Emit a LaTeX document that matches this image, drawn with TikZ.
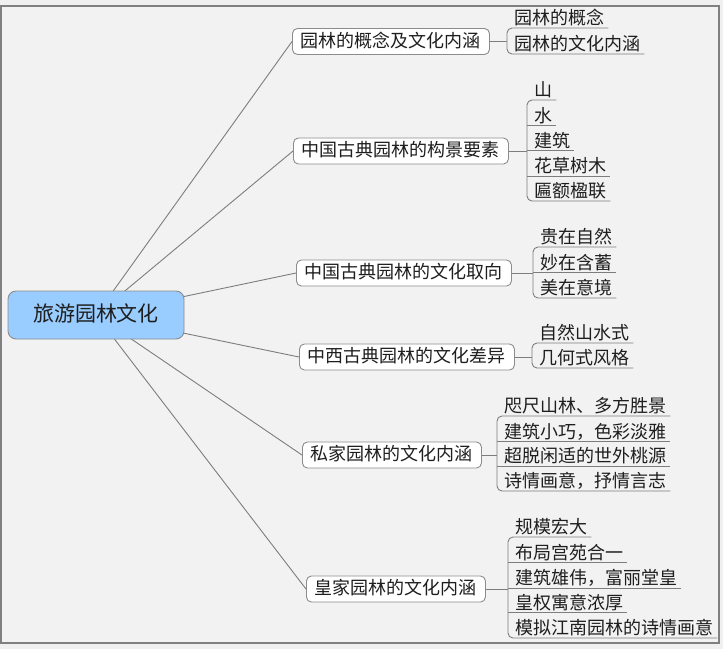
\documentclass[tikz,border=0pt]{standalone}
\usepackage{fontspec}
\newfontfamily\cjk{Noto Sans CJK SC}
\definecolor{bg}{RGB}{242,242,242}
\definecolor{outbg}{RGB}{240,240,240}
\definecolor{framegray}{RGB}{128,128,128}
\definecolor{linegray}{RGB}{125,125,125}
\definecolor{boxgray}{RGB}{140,140,140}
\definecolor{rootblue}{RGB}{153,204,255}
\definecolor{txt}{RGB}{30,30,30}
\begin{document}
\begin{tikzpicture}[x=1pt,y=-1pt,
  conn/.style={draw=linegray, line width=0.9pt},
  lvl/.style={draw=boxgray, fill=white, rounded corners=5pt, line width=0.9pt,
    font=\cjk\fontsize{18}{18}\selectfont, inner xsep=8.5pt, inner ysep=4pt,
    text height=14.5pt, text depth=3.5pt, anchor=west, text=txt},
  leaf/.style={inner sep=0pt, font=\cjk\fontsize{18}{18}\selectfont,
    text height=15pt, text depth=3pt, anchor=south west, text=txt},
  rootbox/.style={draw=boxgray, fill=rootblue, rounded corners=8pt, line width=0.9pt,
    font=\cjk\fontsize{21}{21}\selectfont, minimum width=176pt, minimum height=48pt,
    inner sep=0pt, text height=16pt, text depth=4pt, text=txt}]
\useasboundingbox (0,0) rectangle (723,649);
\fill[outbg] (0,0) rectangle (723,649);
\fill[bg] (1,5.5) rectangle (719,643);
\draw[framegray, line width=2pt] (1,5.5) rectangle (719,643);

% root connectors underneath: use coordinates for targets first
\coordinate (rc) at (96,315);

% level-1 nodes
\node[lvl] (n1) at (292,41.5) {园林的概念及文化内涵};
\node[lvl] (n2) at (293,151) {中国古典园林的构景要素};
\node[lvl] (n3) at (296,273) {中国古典园林的文化取向};
\node[lvl] (n4) at (299,357) {中西古典园林的文化差异};
\node[lvl] (n5) at (302,455) {私家园林的文化内涵};
\node[lvl] (n6) at (306,589) {皇家园林的文化内涵};

\foreach \n in {n1,n2,n3,n4,n5,n6}{\draw[conn] (rc) -- (\n.west);}
\node[rootbox] (root) at (rc) {旅游园林文化};

% group 1
\node[leaf] (a1) at (514,28) {园林的概念};
\node[leaf] (a2) at (514,54) {园林的文化内涵};
\coordinate (s1) at (507,41.5);
\draw[conn] (n1.east) -- (s1);
\draw[conn, rounded corners=5pt] ([xshift=4pt]a1.south east) -- ([xshift=-7pt]a1.south west) -- ([xshift=-7pt]a2.south west) -- ([xshift=4pt]a2.south east);

% group 2
\node[leaf] (b1) at (534,100) {山};
\node[leaf] (b2) at (534,125.5) {水};
\node[leaf] (b3) at (534,150.5) {建筑};
\node[leaf] (b4) at (534,176) {花草树木};
\node[leaf] (b5) at (534,201) {匾额楹联};
\coordinate (s2) at (527,151);
\draw[conn] (n2.east) -- (s2);
\draw[conn, rounded corners=5pt] ([xshift=4pt]b1.south east) -- ([xshift=-7pt]b1.south west) -- ([xshift=-7pt]b5.south west) -- ([xshift=4pt]b5.south east);
\foreach \l in {b2,b3,b4}{\draw[conn] ([xshift=-7pt]\l.south west) -- ([xshift=4pt]\l.south east);}

% group 3
\node[leaf] (c1) at (540,247) {贵在自然};
\node[leaf] (c2) at (540,272.5) {妙在含蓄};
\node[leaf] (c3) at (540,298) {美在意境};
\coordinate (s3) at (533,273);
\draw[conn] (n3.east) -- (s3);
\draw[conn, rounded corners=5pt] ([xshift=4pt]c1.south east) -- ([xshift=-7pt]c1.south west) -- ([xshift=-7pt]c3.south west) -- ([xshift=4pt]c3.south east);
\draw[conn] ([xshift=-7pt]c2.south west) -- ([xshift=4pt]c2.south east);

% group 4
\node[leaf] (d1) at (539,343) {自然山水式};
\node[leaf] (d2) at (539,368) {几何式风格};
\coordinate (s4) at (532,357);
\draw[conn] (n4.east) -- (s4);
\draw[conn, rounded corners=5pt] ([xshift=4pt]d1.south east) -- ([xshift=-7pt]d1.south west) -- ([xshift=-7pt]d2.south west) -- ([xshift=4pt]d2.south east);

% group 5
\node[leaf] (e1) at (504,416) {咫尺山林、多方胜景};
\node[leaf] (e2) at (504,441.5) {建筑小巧，色彩淡雅};
\node[leaf] (e3) at (504,466) {超脱闲适的世外桃源};
\node[leaf] (e4) at (504,491) {诗情画意，抒情言志};
\coordinate (s5) at (497,455);
\draw[conn] (n5.east) -- (s5);
\draw[conn, rounded corners=5pt] ([xshift=4pt]e1.south east) -- ([xshift=-7pt]e1.south west) -- ([xshift=-7pt]e4.south west) -- ([xshift=4pt]e4.south east);
\foreach \l in {e2,e3}{\draw[conn] ([xshift=-7pt]\l.south west) -- ([xshift=4pt]\l.south east);}

% group 6
\node[leaf] (f1) at (515,537) {规模宏大};
\node[leaf] (f2) at (515,562.5) {布局宫苑合一};
\node[leaf] (f3) at (515,588) {建筑雄伟，富丽堂皇};
\node[leaf] (f4) at (515,612.5) {皇权寓意浓厚};
\node[leaf] (f5) at (515,638) {模拟江南园林的诗情画意};
\coordinate (s6) at (508,589);
\draw[conn] (n6.east) -- (s6);
\draw[conn, rounded corners=5pt] ([xshift=4pt]f1.south east) -- ([xshift=-7pt]f1.south west) -- ([xshift=-7pt]f5.south west) -- ([xshift=4pt]f5.south east);
\foreach \l in {f2,f3,f4}{\draw[conn] ([xshift=-7pt]\l.south west) -- ([xshift=4pt]\l.south east);}
\end{tikzpicture}
\end{document}
